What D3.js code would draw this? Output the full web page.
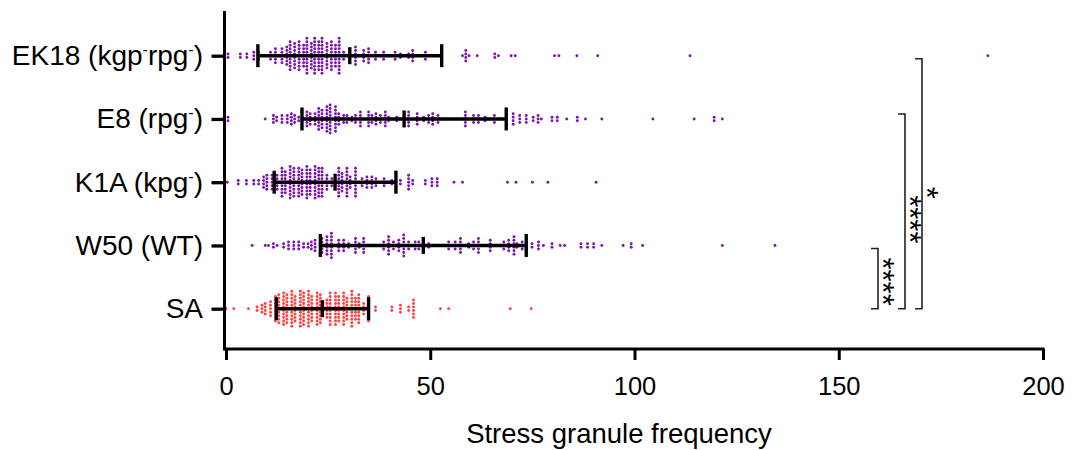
<!DOCTYPE html>
<html><head><meta charset="utf-8">
<script src="https://cdn.jsdelivr.net/npm/d3@7"></script>
<style>
body{margin:0;background:#fff;}
svg text{font-family:"Liberation Sans",Arial,sans-serif;fill:#000;}
</style></head><body>
<svg id="chart" width="1074" height="450"></svg>
<script>
// ---------- data ----------
const categories = ["EK18", "E8", "K1A", "W50", "SA"];
const categoryLabels = ["EK18 (kgp⁻rpg⁻)", "E8 (rpg⁻)", "K1A (kpg⁻)", "W50 (WT)", "SA"];
const xTicks = [0, 50, 100, 150, 200];
const xTitle = "Stress granule frequency";

const ek18Values = [0.5,0.5,3.5,3.5,5.1,5.1,6.8,6.8,6.8,8.0,8.0,8.0,10.9,10.9,10.9,
 12.1,12.1,12.1,12.1,12.1,13.7,13.7,13.7,13.7,13.7,14.9,14.9,14.9,14.9,14.9,14.9,
 15.7,15.7,15.7,15.7,15.7,15.7,15.7,15.7,15.7,16.8,16.8,16.8,16.8,16.8,16.8,16.8,16.8,
 17.9,17.9,17.9,17.9,17.9,17.9,17.9,17.9,17.9,19.0,19.0,19.0,19.0,19.0,19.0,19.0,
 19.8,19.8,19.8,19.8,19.8,19.8,19.8,19.8,19.8,19.8,19.8,20.9,20.9,20.9,20.9,20.9,20.9,20.9,20.9,
 21.7,21.7,21.7,21.7,21.7,21.7,21.7,21.7,21.7,21.7,21.7,22.7,22.7,22.7,22.7,22.7,22.7,22.7,22.7,22.7,
 23.5,23.5,23.5,23.5,23.5,23.5,23.5,23.5,23.5,23.5,23.5,24.7,24.7,24.7,24.7,24.7,24.7,24.7,24.7,
 25.8,25.8,25.8,25.8,25.8,25.8,25.8,25.8,25.8,26.8,26.8,26.8,26.8,26.8,26.8,26.8,
 27.7,27.7,27.7,27.7,27.7,27.7,27.7,27.7,27.7,27.7,27.7,28.8,28.8,28.8,
 31.7,31.7,31.7,31.7,31.7,31.7,33.7,33.7,33.7,33.7,34.9,34.9,34.9,34.9,34.9,36.6,36.6,36.6,
 38.6,38.6,38.6,41.4,41.4,41.4,42.7,42.7,44.7,44.7,45.7,45.7,45.7,45.7,48.8,48.8,48.8,
 57.9,58.7,58.7,58.7,58.7,59.5,61.5,65.8,65.8,66.7,69.8,70.8,80.4,81.5,85.9,91.0,113.6,186.5];

const e8Values = [0.5,0.5,9.6,11.6,11.6,11.6,12.4,12.4,13.7,13.7,13.7,15.0,15.0,15.0,
 16.0,16.0,16.0,16.0,16.8,16.8,16.8,17.8,17.8,19.8,19.8,19.8,19.8,19.8,20.6,20.6,20.6,20.6,
 21.8,21.8,21.8,21.8,22.7,22.7,22.7,22.7,22.7,22.7,22.7,23.5,23.5,23.5,23.5,23.5,23.5,
 24.7,24.7,24.7,24.7,24.7,24.7,24.7,24.7,25.5,25.5,25.5,25.5,25.5,25.5,25.5,25.5,25.5,
 26.8,26.8,26.8,26.8,26.8,26.8,26.8,26.8,27.6,27.6,27.6,27.6,28.8,28.8,28.8,29.6,29.6,29.6,
 30.8,30.8,31.7,31.7,31.7,32.9,32.9,32.9,32.9,32.9,34.9,34.9,34.9,34.9,34.9,35.7,35.7,35.7,
 36.7,36.7,36.7,36.7,37.8,37.8,37.8,39.0,39.0,39.0,39.0,39.0,39.8,39.8,41.8,41.8,
 44.7,44.7,44.7,44.7,44.7,46.8,46.8,46.8,46.8,48.4,48.4,49.6,49.6,49.6,50.6,50.6,50.6,50.6,
 51.9,51.9,51.9,53.7,58.6,58.6,58.6,58.6,58.6,60.6,60.6,60.6,61.8,61.8,61.8,63.4,63.4,64.6,
 65.7,65.7,65.7,67.0,70.3,70.3,70.3,70.3,71.9,71.9,71.9,73.5,73.5,73.5,75.2,75.2,
 76.4,76.4,76.4,77.2,79.8,79.8,81.1,81.1,83.4,86.0,86.0,88.0,92.0,104.5,114.6,119.5,119.5,121.5];

const k1aValues = [0.3,3.0,3.0,5.0,5.0,6.8,6.8,8.0,8.0,9.2,9.2,9.2,9.2,10.0,10.0,10.0,10.0,10.0,
 11.3,11.3,11.3,11.3,11.3,12.5,12.5,12.5,12.5,12.5,13.7,13.7,13.7,13.7,13.7,13.7,13.7,13.7,13.7,
 14.5,14.5,14.5,14.5,14.5,14.5,14.5,15.7,15.7,15.7,15.7,15.7,15.7,15.7,15.7,15.7,15.7,
 16.6,16.6,16.6,16.6,16.6,16.6,16.6,16.6,16.6,17.8,17.8,17.8,17.8,17.8,17.8,17.8,17.8,17.8,
 18.6,18.6,18.6,18.6,18.6,18.6,18.6,18.6,19.8,19.8,19.8,19.8,19.8,19.8,19.8,19.8,19.8,19.8,
 20.6,20.6,20.6,20.6,20.6,20.6,20.6,20.6,21.8,21.8,21.8,21.8,21.8,21.8,21.8,21.8,21.8,21.8,
 22.7,22.7,22.7,22.7,22.7,22.7,22.7,22.7,22.7,23.5,23.5,23.5,23.5,23.5,23.5,23.5,23.5,23.5,
 24.7,24.7,24.7,24.7,24.7,25.9,25.9,25.9,27.6,27.6,27.6,27.6,27.6,27.6,27.6,27.6,27.6,
 28.4,28.4,28.4,28.4,28.4,28.4,29.6,29.6,29.6,29.6,29.6,29.6,29.6,29.6,29.6,30.4,30.4,30.4,30.4,
 31.7,31.7,31.7,31.7,31.7,31.7,31.7,31.7,31.7,33.3,33.3,33.3,34.5,34.5,34.5,34.5,
 35.7,35.7,35.7,35.7,36.7,36.7,36.7,38.7,38.7,38.7,40.6,40.6,42.7,42.7,
 44.7,44.7,44.7,44.7,44.7,45.7,45.7,48.8,48.8,50.4,50.4,50.4,51.7,51.7,51.7,
 55.8,57.9,68.9,71.0,75.0,78.8,90.6];

const w50Values = [6.4,9.6,10.4,11.6,11.6,12.5,14.1,14.1,15.3,15.3,15.3,16.6,16.6,16.6,
 17.8,17.8,17.8,19.0,19.0,20.1,20.1,20.9,20.9,20.9,21.8,21.8,21.8,21.8,
 23.5,23.5,23.5,23.5,23.5,24.7,24.7,24.7,24.7,24.7,24.7,25.8,25.8,25.8,25.8,25.8,25.8,25.8,25.8,
 27.6,27.6,27.6,27.6,28.8,28.8,28.8,28.8,30.0,30.0,31.7,31.7,31.7,31.7,31.7,32.6,32.6,
 33.7,33.7,33.7,33.7,33.7,38.6,38.6,38.6,39.8,39.8,39.8,39.8,39.8,39.8,41.0,41.0,41.0,
 42.3,42.3,42.3,42.3,43.5,43.5,43.5,43.5,43.5,43.5,43.5,44.7,44.7,44.7,46.3,46.3,46.3,
 47.2,47.2,47.2,49.6,49.6,51.2,54.5,54.5,54.5,56.1,56.1,56.1,57.4,57.4,57.4,57.4,57.4,
 59.4,59.4,60.6,60.6,60.6,61.8,61.8,61.8,61.8,61.8,63.5,64.7,64.7,64.7,64.7,66.8,
 68.0,68.0,68.0,69.2,69.2,69.2,69.2,70.5,70.5,70.5,70.5,70.5,70.5,71.2,71.2,72.5,72.5,72.5,
 74.9,74.9,76.5,76.5,76.5,77.7,79.8,79.8,81.8,82.9,86.9,86.9,88.5,88.5,90.0,90.0,92.0,
 97.2,99.2,99.2,102.0,121.5,134.4];

const saValues = [0.0,1.9,5.5,7.6,7.6,8.8,8.8,8.8,9.6,9.6,9.6,9.6,10.9,10.9,10.9,10.9,10.9,
 12.1,12.1,12.1,12.1,12.1,12.1,12.1,12.1,12.9,12.9,12.9,12.9,12.9,12.9,12.9,12.9,12.9,
 14.1,14.1,14.1,14.1,14.1,14.1,14.1,14.1,14.1,14.1,14.9,14.9,14.9,14.9,14.9,14.9,14.9,14.9,14.9,
 16.1,16.1,16.1,16.1,16.1,16.1,16.1,16.1,16.1,16.1,16.1,16.9,16.9,16.9,16.9,16.9,16.9,16.9,16.9,
 18.2,18.2,18.2,18.2,18.2,18.2,18.2,18.2,18.2,18.2,18.2,19.0,19.0,19.0,19.0,19.0,19.0,19.0,19.0,19.0,19.0,
 20.2,20.2,20.2,20.2,20.2,20.2,20.2,20.2,20.2,20.2,20.2,21.0,21.0,21.0,21.0,21.0,21.0,21.0,21.0,
 22.3,22.3,22.3,22.3,22.3,22.3,22.3,22.3,22.3,22.3,23.1,23.1,23.1,23.1,23.1,23.1,23.1,23.1,23.1,
 24.7,24.7,24.7,24.7,24.7,24.7,25.5,25.5,25.5,25.5,25.5,25.5,25.5,25.5,25.5,25.5,
 26.8,26.8,26.8,26.8,26.8,26.8,26.8,26.8,26.8,26.8,27.6,27.6,27.6,27.6,27.6,27.6,27.6,27.6,
 28.8,28.8,28.8,28.8,28.8,28.8,28.8,28.8,28.8,28.8,29.6,29.6,29.6,29.6,29.6,29.6,29.6,
 30.8,30.8,30.8,30.8,30.8,30.8,30.8,30.8,30.8,30.8,30.8,31.7,31.7,31.7,31.7,31.7,31.7,31.7,
 32.5,32.5,32.5,32.5,32.5,32.5,32.5,32.5,32.5,33.7,33.7,33.7,33.7,
 34.9,34.9,34.9,34.9,34.9,34.9,34.9,34.9,36.6,36.6,40.6,40.6,42.7,42.7,42.7,44.7,44.7,
 45.9,45.9,45.9,45.9,45.9,45.9,52.5,54.5,69.6,74.7];

const seriesValues = [ek18Values, e8Values, k1aValues, w50Values, saValues];
// mean and SD shown by the error bars
const means = [30.3, 43.6, 26.7, 48.3, 23.6];
const sds = [22.5, 25.0, 14.9, 25.2, 11.3];
const seriesColors = ["#7e14b0", "#7e14b0", "#7e14b0", "#7e14b0", "#ff4242"];

// significance brackets
const sigFrom = ["SA", "SA", "SA"];
const sigTo = ["W50", "E8", "EK18"];
const sigLabels = ["****", "****", "*"];

// ---------- drawing ----------
const svg = d3.select("#chart");
const x = d3.scaleLinear().domain([0, 200]).range([226, 1043]);
const y = d3.scalePoint().domain(categories).range([55.7, 308.7]);

// dots (Prism-style stacked columns)
const dotStep = 3.5;
const dotsG = svg.append("g");
categories.forEach((c, i) => {
  const groups = d3.group(seriesValues[i], v => v);
  const pts = [];
  groups.forEach((arr, v) => {
    const n = arr.length;
    arr.forEach((_, k) => pts.push({v, off: (k - (n - 1) / 2) * dotStep}));
  });
  dotsG.selectAll(null).data(pts).join("circle")
    .attr("cx", d => x(d.v))
    .attr("cy", d => y(c) + d.off)
    .attr("r", 1.45)
    .attr("fill", seriesColors[i]);
});

// error bars (mean ± SD)
const ebG = svg.append("g").attr("stroke", "#000").attr("stroke-width", 3.4).attr("fill", "none");
categories.forEach((c, i) => {
  const lo = means[i] - sds[i], hi = means[i] + sds[i], cy = y(c);
  ebG.append("line").attr("x1", x(lo)).attr("x2", x(hi)).attr("y1", cy).attr("y2", cy);
  ebG.append("line").attr("x1", x(lo)).attr("x2", x(lo)).attr("y1", cy - 11.5).attr("y2", cy + 11.5);
  ebG.append("line").attr("x1", x(hi)).attr("x2", x(hi)).attr("y1", cy - 11.5).attr("y2", cy + 11.5);
  ebG.append("line").attr("x1", x(means[i])).attr("x2", x(means[i])).attr("y1", cy - 8.5).attr("y2", cy + 8.5);
});

// x axis
const xAxis = svg.append("g").attr("transform", "translate(0,349)")
  .call(d3.axisBottom(x).tickValues(xTicks).tickSize(11).tickFormat(d3.format("d")));
xAxis.select(".domain").remove();
xAxis.selectAll(".tick line").attr("stroke", "#000").attr("stroke-width", 3);
xAxis.selectAll(".tick text").attr("font-size", 25.5).attr("dy", "0.71em").attr("y", 28)
  .attr("font-family", "'Liberation Sans', Arial, sans-serif");
svg.append("line").attr("x1", 224.5).attr("x2", 1044.5).attr("y1", 349).attr("y2", 349)
  .attr("stroke", "#000").attr("stroke-width", 3);

// y axis
const yAxis = svg.append("g").attr("transform", "translate(224.5,0)")
  .call(d3.axisLeft(y).tickSize(13).tickFormat(""));
yAxis.select(".domain").remove();
yAxis.selectAll(".tick line").attr("stroke", "#000").attr("stroke-width", 3.3);
svg.append("line").attr("x1", 224.5).attr("x2", 224.5).attr("y1", 11).attr("y2", 350.5)
  .attr("stroke", "#000").attr("stroke-width", 3);

// category labels with superscript minus
const labG = svg.append("g");
categories.forEach((c, i) => {
  const t = labG.append("text").attr("x", 203).attr("y", y(c) + 9.5)
    .attr("text-anchor", "end").attr("font-size", 28);
  const parts = categoryLabels[i].split(/(⁻)/);
  let raised = false;
  parts.forEach(p => {
    if (p === "") return;
    if (p === "⁻") {
      t.append("tspan").attr("dy", -10).attr("font-size", 16).text("-");
      raised = true;
    } else {
      const ts = t.append("tspan").text(p);
      if (raised) { ts.attr("dy", 10); raised = false; }
    }
  });
});

// x title
svg.append("text").attr("x", 619).attr("y", 443).attr("text-anchor", "middle")
  .attr("font-size", 27.5).text(xTitle);

// significance brackets
const brX = [878, 905, 922];
const brTopShift = [3, -5, 3];
const starShift = [3, 8, 9];
const sigG = svg.append("g");
sigFrom.forEach((f, i) => {
  const y1 = y(sigTo[i]) + brTopShift[i], y2 = y(f), bx = brX[i];
  sigG.append("path")
    .attr("d", `M${bx - 7},${y1}H${bx}V${y2}H${bx - 7}`)
    .attr("fill", "none").attr("stroke", "#222").attr("stroke-width", 1.6);
  const cy = (y1 + y2) / 2 + starShift[i];
  sigG.append("g").attr("transform", `translate(${bx + 10},${cy}) rotate(90)`)
    .append("text").attr("x", 0).attr("y", 16).attr("text-anchor", "middle")
    .attr("font-size", 31).text(sigLabels[i]);
});
</script>
</body></html>
